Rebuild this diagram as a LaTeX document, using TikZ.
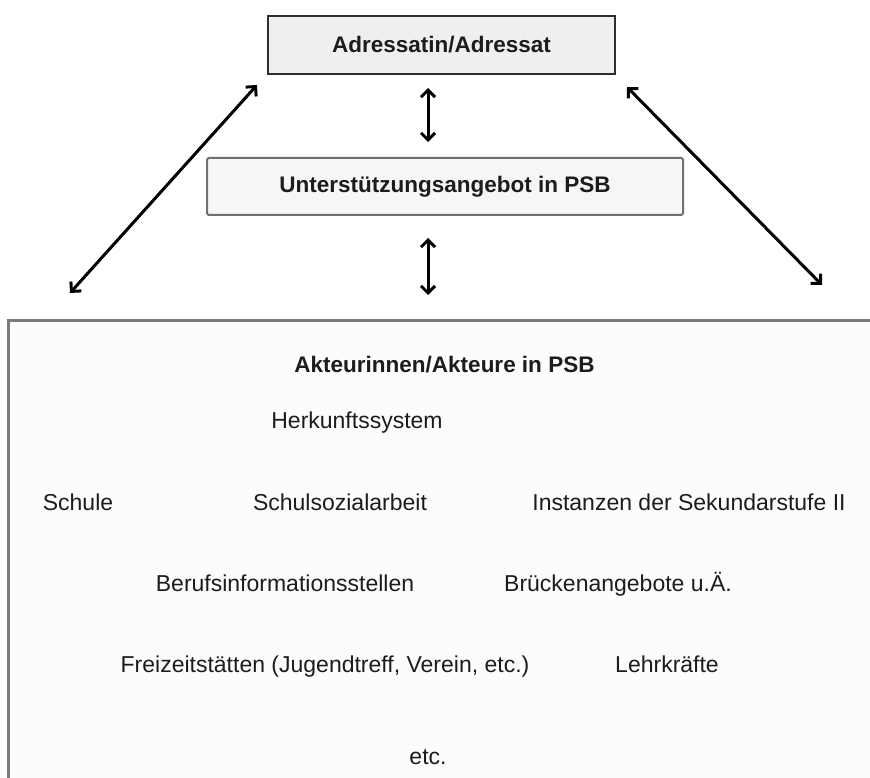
\documentclass[tikz,border=0pt]{standalone}
\usepackage{fontspec}
\setmainfont{Liberation Sans}
\usetikzlibrary{arrows.meta}
\definecolor{txt}{HTML}{1C1C1C}
\definecolor{topfill}{HTML}{EFEFEF}
\definecolor{topline}{HTML}{2E2E2E}
\definecolor{midfill}{HTML}{F6F6F6}
\definecolor{midline}{HTML}{707070}
\definecolor{bigfill}{HTML}{FCFCFC}
\definecolor{bigline}{HTML}{7A7A7A}
\tikzset{
  topbox/.style={draw=topline, fill=topfill, line width=2pt, minimum width=347pt, minimum height=58pt, inner sep=0pt, font=\fontsize{22.5}{27}\selectfont\bfseries, text=txt},
  midbox/.style={draw=midline, fill=midfill, line width=2pt, rounded corners=1.5pt, minimum width=476pt, minimum height=57pt, inner sep=0pt, font=\fontsize{22.5}{27}\selectfont\bfseries, text=txt},
  bigbox/.style={draw=bigline, fill=bigfill, line width=2.5pt, minimum width=900pt, minimum height=500pt, anchor=north west, inner sep=0pt},
  lbl/.style={anchor=base, inner sep=0pt, font=\fontsize{23}{27}\selectfont, text=txt},
  ttl/.style={anchor=base, inner sep=0pt, font=\fontsize{22.5}{27}\selectfont\bfseries, text=txt},
  arr/.style={draw=black, line width=3pt, {Straight Barb[length=7pt,width=14pt]}-{Straight Barb[length=7pt,width=14pt]}}
}
\begin{document}
\begin{tikzpicture}[x=1pt,y=-1pt]
\clip (0,0) rectangle (870,778);
\fill[white] (0,0) rectangle (870,778);

\node[topbox] (adr) at (441.5,45) {Adressatin/Adressat};
\node[midbox] (ang) at (445,186.5) {Unterstützungsangebot in PSB};
\node[bigbox] (akt) at (7,319) {};

\coordinate (vx) at (428,0);
\draw[arr, shorten <=13pt, shorten >=15pt] (adr.south -| vx) -- (ang.north -| vx);
\draw[arr, shorten <=22pt, shorten >=24pt] (ang.south -| vx) -- (akt.north -| vx);

\coordinate (dl1) at (257,85);
\coordinate (dl2) at (70,293);
\coordinate (dr1) at (627,87);
\coordinate (dr2) at (822,285);
\draw[arr] (dl1) -- (dl2);
\draw[arr] (dr1) -- (dr2);

\node[ttl] (t0) at (444.5,372) {Akteurinnen/Akteure in PSB};
\node[lbl] (t1) at (357,428) {Herkunftssystem};
\node[lbl] (t2) at (78,510) {Schule};
\node[lbl] (t3) at (340,510) {Schulsozialarbeit};
\node[lbl] (t4) at (689,510) {Instanzen der Sekundarstufe II};
\node[lbl] (t5) at (285,591) {Berufsinformationsstellen};
\node[lbl] (t6) at (618,591) {Brückenangebote u.Ä.};
\node[lbl] (t7) at (325,672) {Freizeitstätten (Jugendtreff, Verein, etc.)};
\node[lbl] (t8) at (667,672) {Lehrkräfte};
\node[lbl] (t9) at (428,764) {etc.};
\end{tikzpicture}
\end{document}
